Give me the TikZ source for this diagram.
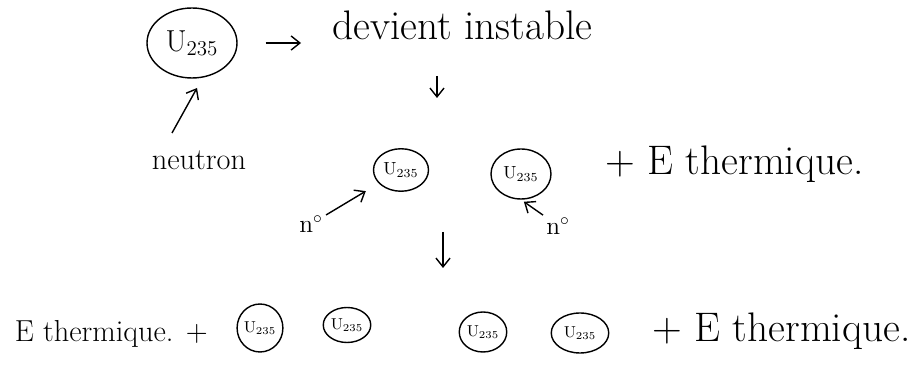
\documentclass[tikz,border=0pt]{standalone}
\usepackage{tikz}
\usetikzlibrary{shapes.geometric, arrows.meta, positioning}
\tikzset{
  nuc/.style    = {ellipse, draw, thick, inner sep=0pt,
                   minimum width=0.95cm, minimum height=0.8cm,
                   font=\small},
  bignuc/.style = {nuc, minimum width=1.8cm, minimum height=1.4cm,
                   font=\LARGE},
  txt/.style    = {inner sep=0pt, font=\fontsize{23.5}{26}\selectfont},
  lbl/.style    = {inner sep=0pt, font=\Large},
  arr/.style    = {-{Straight Barb[length=5pt,width=8pt]}, thick},
}

\begin{document}
\begin{tikzpicture}[x=0.02cm, y=-0.02cm]
  \useasboundingbox (0,0) rectangle (910,367);

  % first nucleus
  \node[bignuc] (u0) at (192,43) {U$_{235}$};
  \node[txt, anchor=base west] (inst) at (332,40) {devient instable};
  \node[lbl, font=\LARGE] (neut) at (199,160) {neutron};
  \coordinate (n0) at (172,133);
  \coordinate (n1) at (197,88);
  \coordinate (d0) at (437,76);
  \coordinate (d1) at (437,98);

  \draw[arr, shorten <=0.56cm, shorten >=0.62cm] (u0.east) -- (u0.east -| inst.west);
  \draw[arr] (n0) -- (n1);
  \draw[arr] (d0) -- (d1);

  % splitting
  \node[nuc, minimum width=1.1cm, minimum height=0.85cm, font=\normalsize] (u1) at (401,170) {U$_{235}$};
  \node[nuc, minimum width=1.2cm, minimum height=1.0cm, font=\normalsize] (u2) at (521,174) {U$_{235}$};
  \node[txt, anchor=base west] (th1) at (605,175) {+ E thermique.};
  \node[lbl] (na) at (311,224) {n$^{\circ}$};
  \node[lbl] (nb) at (558,226) {n$^{\circ}$};
  \coordinate (m0) at (443,232);
  \coordinate (m1) at (443,268);

  \draw[arr, shorten <=2pt, shorten >=0.3cm] (na) -- (u1);
  \draw[arr, shorten <=2pt, shorten >=2pt] (nb.north west) -- (u2.south);
  \draw[arr] (m0) -- (m1);

  % chain reaction
  \node[txt, font=\LARGE, anchor=base east] (th2) at (208,342) {E thermique. +};
  \node[nuc, minimum width=0.8cm, minimum height=0.96cm] (u3) at (260,328) {U$_{235}$};
  \node[nuc, minimum height=0.7cm] (u4) at (347,325) {U$_{235}$};
  \node[nuc] (u5) at (483,332) {U$_{235}$};
  \node[nuc, minimum width=1.15cm] (u6) at (580,333) {U$_{235}$};
  \node[txt, anchor=base west] (th3) at (652,342) {+ E thermique.};

\end{tikzpicture}
\end{document}
